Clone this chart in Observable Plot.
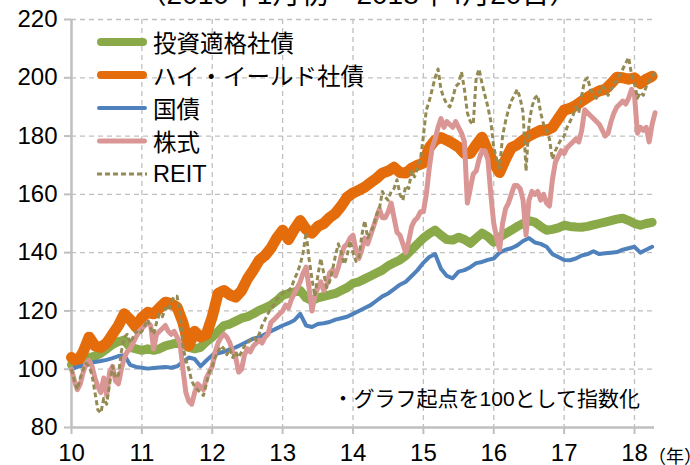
<!DOCTYPE html>
<html><head><meta charset="utf-8">
<script src="https://cdn.jsdelivr.net/npm/d3@7"></script>
<script src="https://cdn.jsdelivr.net/npm/@observablehq/plot@0.6"></script>
<style>
body{margin:0;background:#fff;}
#wrap{position:relative;width:690px;height:465px;overflow:hidden;font-family:"Liberation Sans","Noto Sans CJK JP",sans-serif;color:#000;}
#title{position:absolute;left:0;width:716px;text-align:center;top:-28px;font-size:28px;white-space:nowrap;}
#legend{position:absolute;left:95px;top:26px;}
.row{position:absolute;left:0;height:32px;display:flex;align-items:center;white-space:nowrap;font-size:23.5px;}
.row svg{margin-right:2px;}
#note{position:absolute;right:50px;top:382px;font-size:21px;white-space:nowrap;}
#unit{position:absolute;left:648px;top:442px;font-size:18px;white-space:nowrap;}
</style></head><body><div id="wrap"><div id="title">（2010年1月初～2018年4月20日）</div></div>
<script>
const names = ["投資適格社債","ハイ・イールド社債","国債","株式","REIT"];
const colors = ["#8AAA4A","#E46C0A","#4F81BD","#DA9694","#948A54"];
const widths = [9,11,4,5,3];
const dashes = [null,null,null,null,"5,3"];
const yearTicks = [2010,2011,2012,2013,2014,2015,2016,2017,2018];
const valueTicks = [80,100,120,140,160,180,200,220];

// monthly from Jan 2010
const investGrade = [
101.5,102.0,103.0,104.0,104.5,105.5,107.0,108.5,109.5,110.0,107.5,107.0,
106.5,107.0,106.5,107.0,108.0,108.5,109.0,108.5,107.5,107.0,107.5,109.5,
111.0,113.0,115.0,115.5,116.5,117.5,118.0,119.0,120.2,121.0,122.0,123.5,
125.4,126.0,126.5,127.0,124.5,123.5,124.5,125.0,125.5,126.0,127.0,128.0,
129.5,130.0,131.0,132.0,133.0,134.0,135.5,136.5,137.5,139.0,141.0,143.0,
145.0,146.5,147.7,146.0,144.5,144.3,145.3,144.5,143.2,145.0,146.7,145.5,
143.6,145.3,146.5,147.7,149.0,150.0,151.0,150.5,149.0,147.7,148.0,148.5,
149.4,149.0,148.8,148.7,149.0,149.5,150.0,150.5,151.0,151.5,151.8,151.0,
150.0,149.4,150.0,150.4];
const highYield = [
104,102.5,106,111,108,107.5,109,112,115,119,117,114.5,
117.8,119.5,119,121,123,122.5,121.3,116,108,113,111,112,
118,126,127,125.5,124.7,127,131,134,137.4,139,141.5,145,
147.7,144.5,148,151,148,146.7,149,150,152,153.5,156,159,
160.5,161.4,162.5,164,165.5,167.3,168,169.3,167.5,167.3,169,170,
170.7,176,178.6,179.5,178.6,177.5,176.2,174,174,177,179.6,175,
170.7,167.5,172,176,177,178.6,180,181,182,182,183,186,
188.9,189.5,190.5,192,193.3,194.5,195.5,196,198,200.2,200,199.5,
200,198,199.5,200.5];
const jgb = [
100.0,100.8,101.2,101.8,102.5,102.8,103.2,103.8,104.5,104.8,101.5,100.8,
100.5,100.2,100.4,100.6,100.8,100.5,101.0,102.5,104.0,103.5,101.0,103.0,
104.8,105.5,106.0,106.8,107.5,108.5,109.5,110.5,111.0,112.0,113.0,114.0,
115.0,115.8,116.8,119.0,115.0,114.5,115.5,115.8,116.2,117.0,117.5,118.0,
119.0,120.0,121.0,122.0,123.5,125.0,126.0,127.5,129.0,130.0,132.0,134.0,
136.5,138.5,139.5,134.5,132.0,131.2,133.5,134.0,135.0,136.4,136.8,137.5,
138.0,140.0,141.0,141.5,142.5,144.0,145.0,143.5,143.0,142.0,139.5,138.5,
137.5,137.4,138.0,139.0,139.5,140.5,139.5,139.8,140.0,140.2,141.0,141.5,
142.0,140.0,141.0,142.0];
// half-monthly from Jan 2010
const stocks = [
100,96,93,95,99,102,103,101,97,94,92,97,91,99,101,96,95,100,104,106,107,109,111,113,
114,115,116,115,107,112,113,114,115,113,112,113,111,109,100,92,89,88,92,95,94,93,97,99,
101,106,109,111,112,111,109,106,104,99,100,105,107,106,108,109,110,109,111,112,116,117,118,119,
120,122,121,124,126,128,130,133,135,128,120,125,128,130,127,129,133,134,132,135,139,142,143,145,
146,141,138,141,145,143,146,149,152,155,152,152,154,157,152,147,146,143,140,144,149,151,152,154,
154,160,169,176,179,183,186,183,185,184,183,185,183,181,178,157,162,167,168,172,175,175,172,160,
150,145,141,150,155,157,160,163,163,162,158,146,158,161,160,161,158,160,157,156,165,171,173,175,
174,176,177,178,179,178,182,189,188,187,186,185,184,182,180,181,185,188,190,191,192,191,193,196,
194,181,183,182,183,178,184,188];
const reit = [
100,96,93,97,100,102,101,98,92,86,85,90,88,95,101,97,98,106,111,112,109,111,113,112,
113,115,117,114,112,116,119,118,121,120,123,125,125,120,108,103,100,96,94,93,92,91,95,99,
101,104,106,108,107,105,107,104,106,104,106,108,109,110,111,110,112,115,117,119,121,122,124,125,
126,127,127,128,131,133,136,140,147,138,131,125,132,138,133,128,130,134,139,143,140,136,139,144,
140,137,138,146,151,145,147,149,153,155,161,159,158,161,162,165,160,158,163,162,168,166,169,172,
180,189,192,196,200,203,196,193,191,190,193,197,198,202,196,188,185,184,200,203,198,194,190,185,
176,172,169,180,185,189,192,194,196,193,188,168,184,190,193,194,188,184,182,179,172,175,177,179,
180,183,185,187,190,188,194,199,200,196,194,193,195,197,196,194,196,198,199,201,203,205,207,201,
198,193,195,194,197,199,200,202];

const monthly = arr => arr.map((v,i)=>({x:2010+i/12, y:v}));
const half = arr => arr.map((v,i)=>({x:2010+i/24, y:v}));
const seriesData = [monthly(investGrade), monthly(highYield), monthly(jgb), half(stocks), half(reit)];

const gridStyle = {stroke:"#C0C0C0", strokeOpacity:1, strokeWidth:1.3, strokeDasharray:"5,4"};
const lineMarks = seriesData.map((d,k)=>Plot.line(d,{x:"x",y:"y",stroke:colors[k],strokeWidth:widths[k],strokeDasharray:dashes[k]||undefined,strokeLinejoin:"round",strokeLinecap:dashes[k]?"butt":"round"}));

const chart = Plot.plot({
  width:690, height:465,
  marginLeft:71, marginRight:36, marginTop:19, marginBottom:38,
  x:{domain:[2010,2018.284], label:null},
  y:{domain:[80,220], label:null},
  style:{fontFamily:'"Liberation Sans","Noto Sans CJK JP",sans-serif', background:"transparent", color:"black", overflow:"visible"},
  marks:[
    Plot.gridY(valueTicks.filter(v=>v>80), gridStyle),
    Plot.gridX(yearTicks.filter(v=>v>2010), gridStyle),
    Plot.ruleX([2010],{stroke:"#BFBFBF",strokeWidth:2.5}),
    Plot.ruleY([80],{stroke:"#BFBFBF",strokeWidth:2.5}),
    Plot.axisY(valueTicks,{anchor:"left",label:null,tickSize:7,tickPadding:7,fontSize:24,stroke:"#BFBFBF",strokeWidth:2,fill:"black"}),
    Plot.axisX(yearTicks,{anchor:"bottom",label:null,tickSize:7,tickPadding:9,fontSize:24,stroke:"#BFBFBF",strokeWidth:2,fill:"black",tickFormat:d=>String(d%100)}),
    ...lineMarks
  ]
});
const wrap = document.getElementById("wrap");
wrap.insertBefore(chart, wrap.firstChild);
chart.style.position="absolute"; chart.style.left="0"; chart.style.top="0";

const legend = document.createElement("div");
legend.id="legend";
names.forEach((n,k)=>{
  const row=document.createElement("div");
  row.className="row";
  row.style.top=(k*33)+"px";
  const dash = dashes[k] ? `stroke-dasharray="${dashes[k]}"` : "";
  const cap = dashes[k] ? "butt" : "round";
  row.innerHTML=`<svg width="56" height="14"><line x1="${dashes[k]?2:Math.min(widths[k],8)/2+2}" y1="7" x2="${dashes[k]?52:52-Math.min(widths[k],8)/2}" y2="7" stroke="${colors[k]}" stroke-width="${Math.min(widths[k],8)}" stroke-linecap="${cap}" ${dash}/></svg><span>${n}</span>`;
  legend.appendChild(row);
});
wrap.appendChild(legend);
const note=document.createElement("div"); note.id="note"; note.textContent="・グラフ起点を100として指数化"; wrap.appendChild(note);
const unit=document.createElement("div"); unit.id="unit"; unit.textContent="（年）"; wrap.appendChild(unit);
</script></body></html>
